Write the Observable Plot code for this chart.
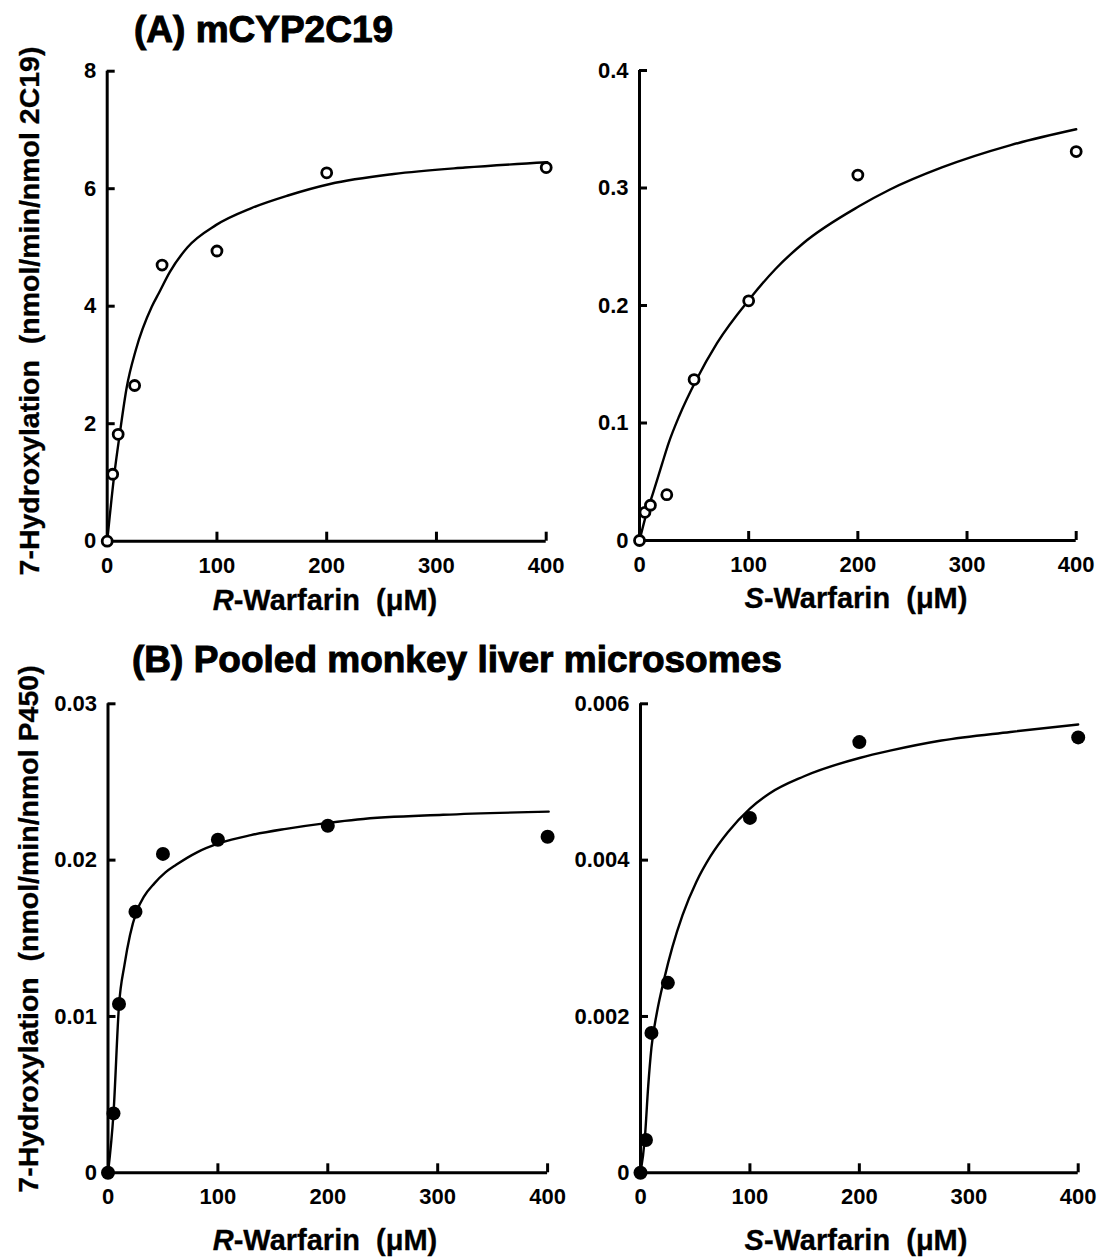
<!DOCTYPE html>
<html>
<head>
<meta charset="utf-8">
<script src="https://cdn.jsdelivr.net/npm/d3@7"></script>
<script src="https://cdn.jsdelivr.net/npm/@observablehq/plot@0.6"></script>
<style>
  html, body { margin: 0; padding: 0; background: #fff; }
  #root { position: relative; width: 1103px; height: 1257px; overflow: hidden; background: #fff;
          font-family: "Liberation Sans", Arial, sans-serif; color: #000; }
  .panel { position: absolute; }
  .panel svg { overflow: visible; }
  .title { position: absolute; font-weight: bold; font-size: 37px; white-space: pre; line-height: 1;
           -webkit-text-stroke: 1px #000; }
  .ylab { position: absolute; font-weight: bold; font-size: 28.5px; white-space: pre; line-height: 1;
          transform: translate(-50%, -50%) rotate(-90deg); -webkit-text-stroke: 0.3px #000; }
  .xlab { position: absolute; font-weight: bold; font-size: 29px; white-space: pre; line-height: 1;
          transform: translate(-50%, 0); -webkit-text-stroke: 0.3px #000; }
</style>
</head>
<body>
<div id="root"></div>
<script>
// ---------- data ----------
const conc = [0, 5, 10, 25, 50, 100, 200, 400];          // µM, panels A and B-left
const concSB = [0, 5, 10, 25, 100, 200, 400];            // µM, panel B-right
const xTicks = [0, 100, 200, 300, 400];

// (A) mCYP2C19, open circles
const rWarfA = [0, 1.14, 1.82, 2.65, 4.70, 4.94, 6.27, 6.36];
const sWarfA = [0, 0.024, 0.030, 0.039, 0.137, 0.204, 0.311, 0.331];
// (B) pooled monkey liver microsomes, filled circles
const rWarfB = [0, 0.0038, 0.0108, 0.0167, 0.0204, 0.0213, 0.0222, 0.0215];
const sWarfB = [0, 0.00042, 0.00179, 0.00243, 0.00454, 0.00551, 0.00557];

// fitted curves
const fitRAx = [0, 6.5, 11.4, 17.8, 26, 40.6, 47, 57, 73, 99, 131.5, 164, 203, 261, 326, 401];
const fitRAy = [0, 1.14, 1.82, 2.62, 3.25, 3.99, 4.22, 4.58, 5.00, 5.38, 5.67, 5.88, 6.08, 6.25, 6.36, 6.45];
const fitSAx = [0, 6.3, 12.6, 20.6, 26.9, 36.4, 52, 71, 101, 125, 150, 201, 229, 277, 340, 400];
const fitSAy = [0, 0.0227, 0.041, 0.065, 0.0835, 0.1060, 0.1366, 0.168, 0.2057, 0.2315, 0.2530, 0.2844, 0.2985, 0.3175, 0.3365, 0.350];
const fitRBx = [0, 5, 10, 15, 20, 26, 33, 42, 52, 62, 81, 102, 130, 162, 202, 227, 305, 401];
const fitRBy = [0, 0.0038, 0.0107, 0.0133, 0.0152, 0.0167, 0.0177, 0.0185, 0.0192, 0.0197, 0.0205, 0.0211, 0.0216, 0.0220, 0.0224, 0.0226, 0.0229, 0.0231];
const fitSBx = [0, 4, 7, 10, 15, 22, 29, 38.5, 51, 64, 80, 100, 117.5, 149, 201, 228, 275, 338, 400];
const fitSBy = [0, 0.00045, 0.0011, 0.0016, 0.00205, 0.0025, 0.00288, 0.0033, 0.00372, 0.00405, 0.00436, 0.00466, 0.00485, 0.00507, 0.00531, 0.0054, 0.00553, 0.00564, 0.005735];

const yTicksRA = [0, 2, 4, 6, 8];
const yTicksSA = [0, 0.1, 0.2, 0.3, 0.4];
const yTicksRB = [0, 0.01, 0.02, 0.03];
const yTicksSB = [0, 0.002, 0.004, 0.006];

const titleA = "(A) mCYP2C19";
const titleB = "(B) Pooled monkey liver microsomes";
const yLabelA = "7-Hydroxylation  (nmol/min/nmol 2C19)";
const yLabelB = "7-Hydroxylation  (nmol/min/nmol P450)";

// ---------- drawing ----------
const FONT = '"Liberation Sans", Arial, sans-serif';
const root = document.getElementById("root");

function panel({xs, ys, fx, fy, yTicks, filled, left, top, width, height, m}) {
  const pts = xs.map((x, i) => ({x, y: ys[i]}));
  const fit = fx.map((x, i) => ({x, y: fy[i]}));
  const innerH = height - m.top - m.bottom;
  const innerW = width - m.left - m.right;
  const chart = Plot.plot({
    width, height,
    marginLeft: m.left, marginRight: m.right, marginTop: m.top, marginBottom: m.bottom,
    style: {fontFamily: FONT, fontSize: "22px", fontWeight: "bold", color: "#000", background: "transparent", overflow: "visible"},
    x: {domain: [0, 400]},
    y: {domain: [0, yTicks[yTicks.length - 1]]},
    marks: [
      Plot.axisX(xTicks, {tickSize: 0, tickPadding: 16, tickFormat: d => String(d), label: null, fontSize: 22, fontWeight: "bold"}),
      Plot.axisY(yTicks, {tickSize: 0, tickPadding: 11, tickFormat: d => String(d), label: null, fontSize: 22, fontWeight: "bold"}),
      Plot.tickX(xTicks.slice(1), {x: d => d, stroke: "#000", strokeWidth: 3, insetTop: innerH - 9}),
      Plot.tickY(yTicks.slice(1), {y: d => d, stroke: "#000", strokeWidth: 3, insetRight: innerW - 8}),
      Plot.ruleX([0], {stroke: "#000", strokeWidth: 3}),
      Plot.ruleY([0], {stroke: "#000", strokeWidth: 3}),
      Plot.line(fit, {x: "x", y: "y", curve: "monotone-x", stroke: "#000", strokeWidth: 2.4}),
      filled
        ? Plot.dot(pts, {x: "x", y: "y", r: 7, fill: "#000", stroke: "none"})
        : Plot.dot(pts, {x: "x", y: "y", r: 5, fill: "#fff", stroke: "#000", strokeWidth: 2.8})
    ]
  });
  const wrap = document.createElement("div");
  wrap.className = "panel";
  wrap.style.left = left + "px";
  wrap.style.top = top + "px";
  wrap.appendChild(chart);
  root.appendChild(wrap);
}

panel({xs: conc, ys: rWarfA, fx: fitRAx, fy: fitRAy, yTicks: yTicksRA, filled: false,
  left: 0, top: 0, width: 560, height: 630, m: {left: 106.7, right: 14.3, top: 70.7, bottom: 89.3}});
panel({xs: conc, ys: sWarfA, fx: fitSAx, fy: fitSAy, yTicks: yTicksSA, filled: false,
  left: 560, top: 0, width: 543, height: 630, m: {left: 79, right: 27.3, top: 70, bottom: 90}});
panel({xs: conc, ys: rWarfB, fx: fitRBx, fy: fitRBy, yTicks: yTicksRB, filled: true,
  left: 0, top: 630, width: 560, height: 627, m: {left: 107.5, right: 12.9, top: 73.3, bottom: 84.7}});
panel({xs: concSB, ys: sWarfB, fx: fitSBx, fy: fitSBy, yTicks: yTicksSB, filled: true,
  left: 560, top: 630, width: 543, height: 627, m: {left: 80, right: 25.3, top: 73.3, bottom: 84.7}});

function addText(cls, html, x, y) {
  const d = document.createElement("div");
  d.className = cls;
  d.innerHTML = html;
  d.style.left = x + "px";
  d.style.top = y + "px";
  root.appendChild(d);
  return d;
}
addText("title", titleA, 134, 11);
addText("title", titleB, 132, 641);
addText("ylab", yLabelA, 29, 311);
addText("ylab", yLabelB, 28, 929);
const xl = "-Warfarin  (μM)";
addText("xlab", "<i>R</i>" + xl, 325, 586);
addText("xlab", "<i>S</i>" + xl, 856, 584);
addText("xlab", "<i>R</i>" + xl, 325, 1226);
addText("xlab", "<i>S</i>" + xl, 856, 1226);
</script>
</body>
</html>
